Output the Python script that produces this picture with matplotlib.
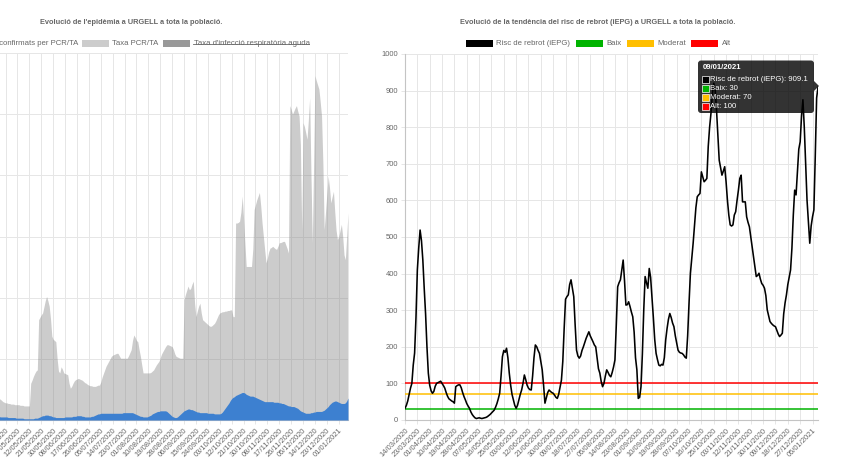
import numpy as np
import pandas as pd
import matplotlib
matplotlib.use('Agg')
import matplotlib.pyplot as plt
from matplotlib.patches import Rectangle, FancyBboxPatch, Polygon

plt.rcParams['font.family'] = ['Liberation Sans', 'DejaVu Sans']

W, H = 844, 474

## left chart: daily values from 15/04/2020 (x axis starts 01/03/2020)
left_axis_start = '2020-03-01'
left_data_start = '2020-04-15'
taxa_pcr = [
    38, 37, 36, 36, 35,
    34, 32, 30, 29, 28, 28, 27, 27, 26, 26,
    26, 25, 25, 25, 25, 24, 24, 24, 23, 23,
    23, 23, 23, 60, 65, 71, 76, 80, 82, 164,
    168, 172, 175, 185, 195, 202, 195, 186, 165, 137,
    132, 130, 128, 100, 80, 77, 87, 83, 77, 76,
    75, 74, 60, 52, 55, 60, 64, 66, 67, 68,
    67, 66, 65, 63, 61, 60, 58, 57, 56, 56,
    55, 55, 55, 56, 57, 57, 62, 70, 76, 82,
    88, 92, 96, 100, 104, 106, 107, 108, 109, 109,
    105, 101, 101, 101, 101, 101, 101, 105, 110, 115,
    130, 139, 135, 130, 128, 115, 104, 90, 77, 77,
    77, 77, 77, 77, 78, 80, 82, 86, 90, 93,
    96, 102, 108, 112, 116, 120, 123, 123, 122, 121,
    120, 115, 108, 104, 103, 102, 101, 101, 101, 197,
    205, 212, 219, 213, 215, 222, 227, 190, 169, 178,
    186, 191, 175, 164, 162, 160, 158, 156, 154, 153,
    154, 156, 158, 162, 167, 172, 175, 176, 177, 177,
    178, 178, 179, 179, 180, 180, 169, 169, 322, 322,
    323, 325, 340, 366, 330, 290, 251, 251, 251, 251,
    251, 280, 344, 352, 360, 366, 372, 350, 322, 300,
    278, 257, 265, 275, 281, 282, 284, 282, 280, 279,
    284, 290, 290, 291, 292, 292, 286, 280, 273, 514,
    508, 500, 505, 510, 514, 505, 497, 450, 311, 486,
    480, 470, 459, 490, 527, 400, 290, 420, 563, 555,
    548, 541, 520, 497, 420, 311, 340, 370, 399, 380,
    355, 365, 374, 340, 310, 295, 300, 310, 320, 300,
    270, 262, 300, 339,
]
casos = [
    7, 7, 6, 6, 6,
    5, 5, 5, 5, 5, 5, 4, 4, 4, 4,
    4, 4, 3, 3, 3, 3, 3, 3, 2, 2,
    2, 2, 2, 2, 2, 2, 3, 3, 3, 4,
    5, 6, 7, 7, 8, 8, 8, 7, 7, 6,
    5, 5, 4, 4, 4, 4, 4, 4, 4, 5,
    5, 5, 5, 5, 5, 6, 6, 6, 7, 7,
    7, 7, 6, 6, 5, 5, 5, 5, 5, 6,
    6, 7, 8, 9, 10, 10, 11, 11, 11, 11,
    11, 11, 11, 11, 11, 11, 11, 11, 11, 11,
    11, 11, 11, 12, 12, 12, 12, 12, 12, 12,
    12, 11, 10, 9, 8, 7, 6, 6, 5, 5,
    5, 5, 6, 7, 8, 10, 11, 12, 13, 14,
    14, 15, 15, 15, 15, 15, 14, 12, 10, 8,
    6, 5, 4, 4, 5, 7, 9, 11, 13, 15,
    16, 17, 18, 18, 17, 17, 16, 15, 14, 13,
    13, 12, 12, 12, 12, 12, 12, 11, 11, 11,
    11, 11, 10, 10, 10, 10, 10, 11, 13, 16,
    19, 22, 25, 28, 32, 35, 37, 38, 40, 41,
    42, 43, 44, 45, 45, 44, 42, 41, 40, 39,
    39, 39, 38, 37, 36, 35, 34, 33, 32, 31,
    30, 30, 30, 30, 30, 30, 30, 29, 29, 29,
    29, 28, 28, 27, 27, 26, 25, 24, 23, 23,
    22, 22, 22, 21, 20, 19, 17, 15, 14, 13,
    12, 11, 11, 11, 11, 12, 12, 13, 13, 14,
    14, 14, 14, 14, 15, 16, 18, 20, 22, 25,
    27, 29, 30, 31, 31, 30, 29, 28, 27, 27,
    27, 28, 31, 36,
]

## right chart: iEPG daily from 14/03/2020
right_start = '2020-03-14'
iepg = [
    32, 40, 52, 70, 87, 100, 150, 183, 280, 410,
    470, 519, 490, 437, 360, 290, 200, 128, 95, 80,
    73, 78, 92, 100, 102, 104, 106, 100, 94, 87,
    75, 65, 58, 55, 52, 50, 46, 91, 94, 96,
    96, 88, 75, 64, 55, 45, 38, 32, 22, 15,
    10, 6, 4, 5, 6, 5, 4, 5, 6, 7,
    9, 12, 15, 19, 23, 27, 35, 45, 58, 73,
    120, 173, 190, 185, 196, 170, 128, 95, 70, 55,
    40, 32, 40, 55, 70, 82, 100, 123, 110, 95,
    87, 83, 82, 120, 170, 205, 200, 190, 182, 160,
    137, 95, 46, 60, 75, 82, 78, 75, 73, 68,
    62, 59, 70, 90, 109, 160, 250, 330, 337, 342,
    370, 383, 360, 337, 260, 191, 175, 169, 175, 190,
    200, 212, 223, 232, 241, 230, 222, 214, 205, 200,
    170, 140, 128, 105, 91, 100, 120, 137, 130, 122,
    118, 130, 145, 164, 260, 364, 375, 383, 410, 437,
    380, 314, 315, 323, 310, 295, 282, 240, 170, 137,
    59, 62, 91, 180, 300, 392, 375, 360, 414, 390,
    337, 280, 220, 182, 165, 150, 148, 152, 150, 170,
    219, 250, 275, 291, 280, 265, 255, 230, 210, 191,
    185, 183, 182, 178, 172, 169, 230, 319, 400, 440,
    483, 530, 580, 610, 615, 619, 678, 665, 651, 655,
    660, 747, 800, 838, 890, 920, 905, 850, 780, 710,
    690, 669, 680, 692, 651, 600, 560, 533, 530, 533,
    560, 569, 600, 628, 660, 669, 596, 596, 596, 555,
    540, 528, 500, 470, 446, 420, 392, 395, 401, 385,
    373, 368, 360, 340, 301, 285, 269, 264, 260, 257,
    255, 245, 235, 228, 232, 237, 290, 320, 342, 370,
    390, 410, 470, 560, 628, 615, 680, 740, 760, 830,
    875, 800, 700, 601, 540, 483, 530, 555, 574, 720,
    880, 909.1,
]
baix, moderat, alt = 30, 70, 100

TXT = '#666666'
GRID = '#e6e6e6'
AXIS = '#c4c4c4'
BLUE = '#3d80d0'
GRAY_FILL = '#cccccc'
GRAY_DARK = '#999999'
GREEN = '#00b300'
YELLOW = '#ffbf00'
RED = '#ff0000'

FS_TITLE = 5.3
FS_LEGEND = 5.6
FS_TICK = 5.4
FS_TIP = 5.6


def px_axes(x0, y0, x1, y1):
    return [x0 / W, 1 - y1 / H, (x1 - x0) / W, (y1 - y0) / H]


def style_axes(ax, ymax, ticks):
    ax.set_facecolor('white')
    ax.set_ylim(0, ymax)
    ax.set_yticks(np.arange(0, ymax + 1, 100))
    ax.set_xticks(ticks[0])
    ax.set_xticklabels(ticks[1], rotation=45, ha='right', rotation_mode='anchor')
    ax.grid(True, color=GRID, lw=0.7, zorder=0)
    ax.set_axisbelow(True)
    for s in ['top', 'right']:
        ax.spines[s].set_visible(False)
    for s in ['left', 'bottom']:
        ax.spines[s].set_color(AXIS)
        ax.spines[s].set_linewidth(0.8)
    ax.tick_params(labelsize=FS_TICK, labelcolor=TXT, color=GRID, length=3, width=0.7, pad=2)


fig = plt.figure(figsize=(W / 100, H / 100), dpi=100)

## ---- left chart (cut off on the left side of the screenshot)
l_axis_dates = pd.date_range(left_axis_start, '2021-01-08')
l_off = (pd.Timestamp(left_data_start) - pd.Timestamp(left_axis_start)).days
l_x = np.arange(l_off, l_off + len(taxa_pcr))
ax1 = fig.add_axes(px_axes(-65.8, 53, 348, 420))
ax1.fill_between(l_x, 0, taxa_pcr, color='#808080', alpha=0.4, lw=0, zorder=2)
ax1.fill_between(l_x, 0, casos, color=BLUE, lw=0, zorder=3)
lt = np.arange(0, len(l_axis_dates), 9)
style_axes(ax1, 600, (lt, [l_axis_dates[i].strftime('%d/%m/%Y') for i in lt]))
ax1.set_xlim(0, len(l_axis_dates) - 1)

## ---- right chart
r_dates = pd.date_range(right_start, periods=len(iepg))
r_x = np.arange(len(iepg))
ax2 = fig.add_axes(px_axes(405, 54, 818, 420))
ax2.plot(r_x, np.full(len(r_x), alt), color=RED, lw=1.1, zorder=3)
ax2.plot(r_x, np.full(len(r_x), moderat), color=YELLOW, lw=1.1, zorder=3)
ax2.plot(r_x, np.full(len(r_x), baix), color=GREEN, lw=1.1, zorder=3)
ax2.plot(r_x, iepg, color='black', lw=1.15, zorder=4)
rt = np.arange(0, len(iepg), 9)
style_axes(ax2, 1000, (rt, [r_dates[i].strftime('%d/%m/%Y') for i in rt]))
ax2.set_xlim(0, len(iepg) - 1)

## ---- overlay in pixel coordinates for titles, legends, tooltip
ov = fig.add_axes([0, 0, 1, 1], zorder=10)
ov.set_xlim(0, W)
ov.set_ylim(H, 0)
ov.axis('off')
ov.patch.set_alpha(0)

ov.text(131, 22, "Evolució de l'epidèmia a URGELL a tota la població.", ha='center', va='center',
        fontsize=FS_TITLE, fontweight='bold', color=TXT)
ov.text(598, 22, 'Evolució de la tendència del risc de rebrot (iEPG) a URGELL a tota la població.',
        ha='center', va='center', fontsize=FS_TITLE, fontweight='bold', color=TXT)


def legend_item(x, y, color, label):
    ov.add_patch(Rectangle((x, y - 3.5), 27, 7, facecolor=color, edgecolor='none'))
    return ov.text(x + 30.5, y, label, ha='left', va='center', fontsize=FS_LEGEND, color=TXT)


ly = 43.5
ov.text(78, ly, 'Casos confirmats per PCR/TA', ha='right', va='center', fontsize=FS_LEGEND, color=TXT)
legend_item(82, ly, GRAY_FILL, 'Taxa PCR/TA')
t_strike = legend_item(163, ly, GRAY_DARK, "Taxa d'infecció respiratòria aguda")

legend_item(466, ly, 'black', 'Risc de rebrot (iEPG)')
legend_item(576, ly, GREEN, 'Baix')
legend_item(627, ly, YELLOW, 'Moderat')
legend_item(691, ly, RED, 'Alt')

# strike-through of the hidden dataset label
fig.canvas.draw()
bb = t_strike.get_window_extent().transformed(ov.transData.inverted())
ov.plot([bb.x0, bb.x1], [ly, ly], color=TXT, lw=0.6)

## tooltip
ov.add_patch(FancyBboxPatch((698, 60.5), 116, 52.5, boxstyle='round,pad=0,rounding_size=3',
                            facecolor='black', edgecolor='none', alpha=0.8))
ov.add_patch(Polygon([(814, 81), (819, 86), (814, 91)], closed=True, facecolor='black',
                     edgecolor='none', alpha=0.8))
ov.text(703, 67, r_dates[-1].strftime('%d/%m/%Y'), ha='left', va='center', fontsize=FS_TIP,
        fontweight='bold', color='white')
rows = [('black', f'Risc de rebrot (iEPG): {iepg[-1]}'),
        (GREEN, f'Baix: {baix}'),
        (YELLOW, f'Moderat: {moderat}'),
        (RED, f'Alt: {alt}')]
for i, (c, lab) in enumerate(rows):
    yc = 79.3 + i * 8.9
    ov.add_patch(Rectangle((702, yc - 3), 6.5, 6.5, facecolor=c, edgecolor='white', lw=0.5))
    ov.text(710.5, yc + 0.2, lab, ha='left', va='center', fontsize=FS_TIP, color='white')

fig.savefig('out.png', dpi=100)
